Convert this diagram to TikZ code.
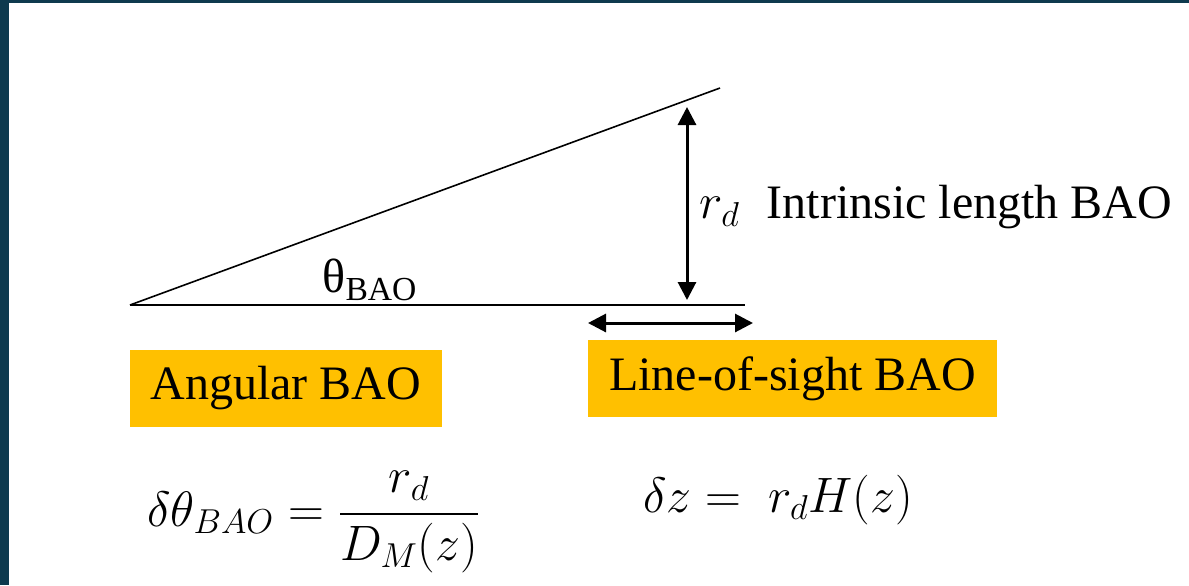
\documentclass[tikz,border=0pt]{standalone}
\usepackage{amsmath}
\usepackage{fontspec}
\setmainfont{Liberation Serif}
\usepackage{tikz}
\usetikzlibrary{arrows.meta,positioning}
\definecolor{slidenavy}{RGB}{14,58,78}
\definecolor{baoamber}{RGB}{255,192,0}
\tikzset{
  base/.style={font=\fontsize{24}{28}\selectfont, text=black, inner sep=0pt},
  tag/.style={base, rectangle, fill=baoamber, minimum height=38.5pt},
  eq/.style={base, font=\fontsize{26.5}{30}\selectfont},
  ray/.style={line width=0.8pt, draw=black},
  dim/.style={{Triangle[length=9pt,width=9pt]}-{Triangle[length=9pt,width=9pt]}, line width=1.5pt, draw=black},
}
\begin{document}
\begin{tikzpicture}[x=0.5pt,y=-0.5pt]
  % frame
  \fill[slidenavy] (0,0) rectangle (1189,585);
  \fill[white] (9,3) rectangle (1189,585);
  \useasboundingbox (0,0) rectangle (1189,585);
  % wedge
  \coordinate (apex) at (130,305);
  \coordinate (tip) at (720,88);
  \coordinate (foot) at (745,305);
  \draw[ray] (apex) -- (tip);
  \draw[ray] (apex) -- (foot);
  % arrows
  \coordinate (rtop) at (687,107);
  \coordinate (rbot) at (687,300);
  \draw[dim] (rtop) -- (rbot);
  \coordinate (zleft) at (588,323);
  \coordinate (zright) at (753,323);
  \draw[dim] (zleft) -- (zright);
  % labels
  \node[base] (theta) at (370,280) {θ\textsubscript{BAO}};
  \node[base, anchor=west, font=\fontsize{26}{30}\selectfont] (rd) at (699,212) {$r_d$};
  \node[base, anchor=base west] (intr) at ([xshift=13pt]rd.base east) {Intrinsic length BAO};
  % boxes
  \node[tag, minimum width=156pt] (ang) at (286,388) {Angular BAO};
  \node[tag, minimum width=204.5pt] (los) at (792.5,378.5) {Line-of-sight BAO};
  % formulas
  \node[eq] (angeq) at (314,522) {$\delta\theta_{BAO}=\dfrac{r_d}{D_M(z)}$};
  \node[eq] (loseq) at (778,500) {$\delta z=\ r_d H(z)$};
\end{tikzpicture}
\end{document}
